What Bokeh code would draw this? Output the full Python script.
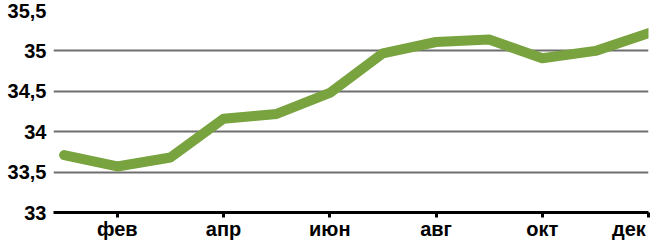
from bokeh.plotting import figure
from bokeh.models import FixedTicker, Range1d
from bokeh.embed import file_html
from bokeh.resources import INLINE

months = list(range(1, 13))
values = [33.71, 33.57, 33.68, 34.16, 34.22, 34.48, 34.97, 35.11, 35.14, 34.91, 35.0, 35.22]
x_ticks = [2, 4, 6, 8, 10, 12]
x_tick_labels = ["фев", "апр", "июн", "авг", "окт", "дек"]
y_ticks = [33, 33.5, 34, 34.5, 35, 35.5]
y_tick_labels = ["33", "33,5", "34", "34,5", "35", "35,5"]

FONT = "Liberation Sans"

p = figure(width=662, height=244, output_backend="svg", toolbar_location=None,
           x_range=Range1d(0.8, 12), y_range=Range1d(33, 35.5),
           min_border_left=53, min_border_right=14, min_border_top=10, min_border_bottom=32)
p.outline_line_color = None
p.background_fill_color = "white"
p.border_fill_color = "white"

p.line(months, values, line_color="#78A33E", line_width=10,
       line_join="round", line_cap="round")

# x axis; the last label is padded with no-break spaces so that, like the
# original, it sits just left of its tick and stays inside the picture
xa = p.xaxis[0]
xa.ticker = FixedTicker(ticks=x_ticks)
overrides = {t: l for t, l in zip(x_ticks, x_tick_labels)}
overrides[x_ticks[-1]] = x_tick_labels[-1] + "\u00a0" * 3
xa.major_label_overrides = overrides
xa.axis_line_color = "black"
xa.axis_line_width = 3
xa.major_tick_line_color = "black"
xa.major_tick_line_width = 3
xa.major_tick_in = 0
xa.major_tick_out = 5
xa.minor_tick_line_color = None
xa.major_label_standoff = 0
xa.major_label_text_font = FONT
xa.major_label_text_font_style = "bold"
xa.major_label_text_font_size = "20px"
xa.major_label_text_color = "black"

# y axis
ya = p.yaxis[0]
ya.ticker = FixedTicker(ticks=y_ticks)
ya.major_label_overrides = {t: l for t, l in zip(y_ticks, y_tick_labels)}
ya.axis_line_color = None
ya.major_tick_line_color = None
ya.minor_tick_line_color = None
ya.major_tick_in = 0
ya.major_tick_out = 0
ya.major_label_standoff = 7
ya.major_label_text_font = FONT
ya.major_label_text_font_style = "bold"
ya.major_label_text_font_size = "20px"
ya.major_label_text_color = "black"

p.xgrid.grid_line_color = None
p.ygrid.ticker = FixedTicker(ticks=y_ticks[1:])
p.ygrid.grid_line_color = "#6E6E6E"
p.ygrid.grid_line_width = 2

open("out.html", "w").write(file_html(p, INLINE))
